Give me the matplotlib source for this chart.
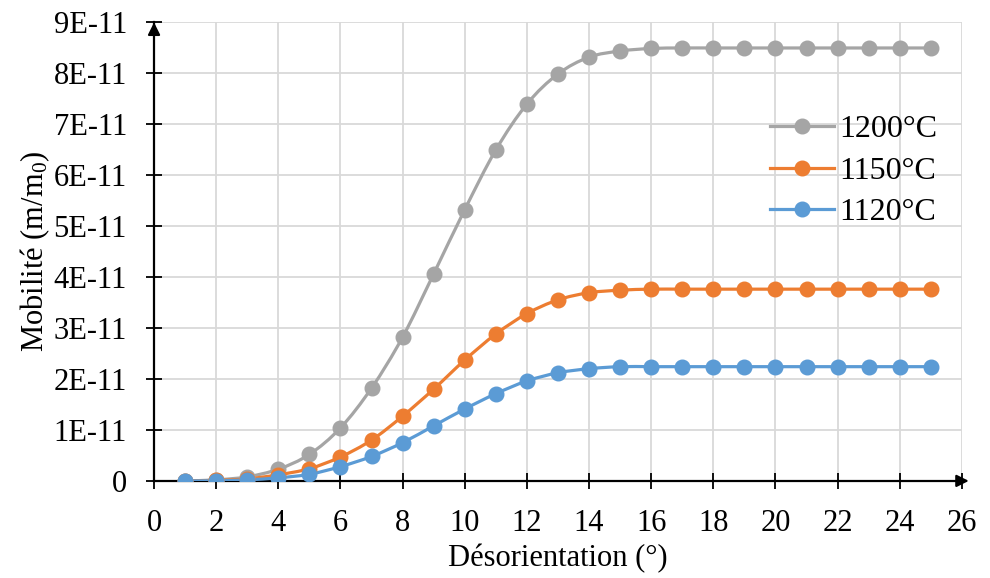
import numpy as np
import matplotlib.pyplot as plt
from matplotlib.path import Path
from matplotlib.patches import PathPatch
from matplotlib.lines import Line2D

plt.rcParams["font.family"] = ["Liberation Serif", "DejaVu Serif"]
plt.rcParams["mathtext.fontset"] = "custom"
plt.rcParams["mathtext.rm"] = "Liberation Serif"
plt.rcParams["mathtext.it"] = "Liberation Serif:italic"

SCALE = 1e-11

desorientation = list(range(1, 26))

# values in units of 1E-11
mob_1200 = [0.0, 0.02, 0.08, 0.23, 0.52, 1.04, 1.82, 2.82, 4.06, 5.32, 6.49, 7.39, 7.98,
            8.31, 8.43, 8.48, 8.49, 8.49, 8.49, 8.49, 8.49, 8.49, 8.49, 8.49, 8.49]
mob_1150 = [0.0, 0.01, 0.04, 0.12, 0.24, 0.47, 0.80, 1.27, 1.80, 2.37, 2.88, 3.28, 3.55,
            3.69, 3.74, 3.76, 3.76, 3.76, 3.76, 3.76, 3.76, 3.76, 3.76, 3.76, 3.76]
mob_1120 = [0.0, 0.003, 0.02, 0.06, 0.13, 0.28, 0.48, 0.75, 1.08, 1.41, 1.71, 1.96, 2.12,
            2.20, 2.24, 2.24, 2.24, 2.24, 2.24, 2.24, 2.24, 2.24, 2.24, 2.24, 2.24]

series_names = ["1200°C", "1150°C", "1120°C"]
series_colors = ["#A5A5A5", "#ED7D31", "#5B9BD5"]

x_ticks = list(range(0, 27, 2))
y_tick_labels = ["0", "1E-11", "2E-11", "3E-11", "4E-11", "5E-11", "6E-11", "7E-11", "8E-11", "9E-11"]


def smooth_path(x, y):
    # Excel-like smoothed line: Catmull-Rom segments as cubic Bezier curves
    x = np.asarray(x, float)
    y = np.asarray(y, float)
    pts = np.column_stack([x, y])
    verts = [pts[0]]
    codes = [Path.MOVETO]
    n = len(pts)
    for i in range(n - 1):
        p0 = pts[i - 1] if i > 0 else pts[i]
        p1 = pts[i]
        p2 = pts[i + 1]
        p3 = pts[i + 2] if i + 2 < n else pts[i + 1]
        c1 = p1 + (p2 - p0) / 6.0
        c2 = p2 - (p3 - p1) / 6.0
        verts += [c1, c2, p2]
        codes += [Path.CURVE4] * 3
    return Path(verts, codes)


fig = plt.figure(figsize=(9.9, 5.78), dpi=100)
ax = fig.add_axes([0.1556, 0.168, 0.816, 0.794])

handles = []
for vals, name, col in zip([mob_1200, mob_1150, mob_1120], series_names, series_colors):
    yv = np.array(vals) * SCALE
    ax.add_patch(PathPatch(smooth_path(desorientation, yv), facecolor="none",
                           edgecolor=col, lw=2.3, zorder=3))
    ax.plot(desorientation, yv, ls="none", marker="o", ms=10.5, color=col, zorder=4)
    handles.append(Line2D([], [], color=col, lw=2.3, marker="o", ms=10.5, label=name))

ax.set_xlim(0, 26)
ax.set_ylim(0, 9 * SCALE)
ax.set_xticks(x_ticks)
ax.set_yticks([i * SCALE for i in range(10)])
ax.set_yticklabels(y_tick_labels)
ax.grid(True, color="#D9D9D9", lw=1.3)
ax.set_axisbelow(True)
ax.tick_params(direction="inout", length=11, width=1.3, labelsize=22)
ax.tick_params(axis="x", pad=15)
ax.tick_params(axis="y", pad=14)

for s in ["top", "right"]:
    ax.spines[s].set_visible(False)
for s in ["left", "bottom"]:
    ax.spines[s].set_linewidth(1.6)

# arrow heads on the axes
ax.annotate("", xy=(1.012, 0), xytext=(0.99, 0), xycoords="axes fraction",
            arrowprops=dict(arrowstyle="-|>", color="black", lw=1.6, mutation_scale=18),
            annotation_clip=False)
ax.annotate("", xy=(0, 1.005), xytext=(0, 0.97), xycoords="axes fraction",
            arrowprops=dict(arrowstyle="-|>", color="black", lw=1.6, mutation_scale=18),
            annotation_clip=False)

ax.set_xlabel("Désorientation (°)", fontsize=22, labelpad=4)
ax.set_ylabel("Mobilité (m/m$_0$)", fontsize=22, labelpad=1)

ax.legend(handles=handles, loc="upper right", bbox_to_anchor=(0.985, 0.825), frameon=False,
          fontsize=23, handlelength=2.0, handletextpad=0.15, labelspacing=0.38,
          borderaxespad=0)

fig.savefig("out.png", dpi=100)
